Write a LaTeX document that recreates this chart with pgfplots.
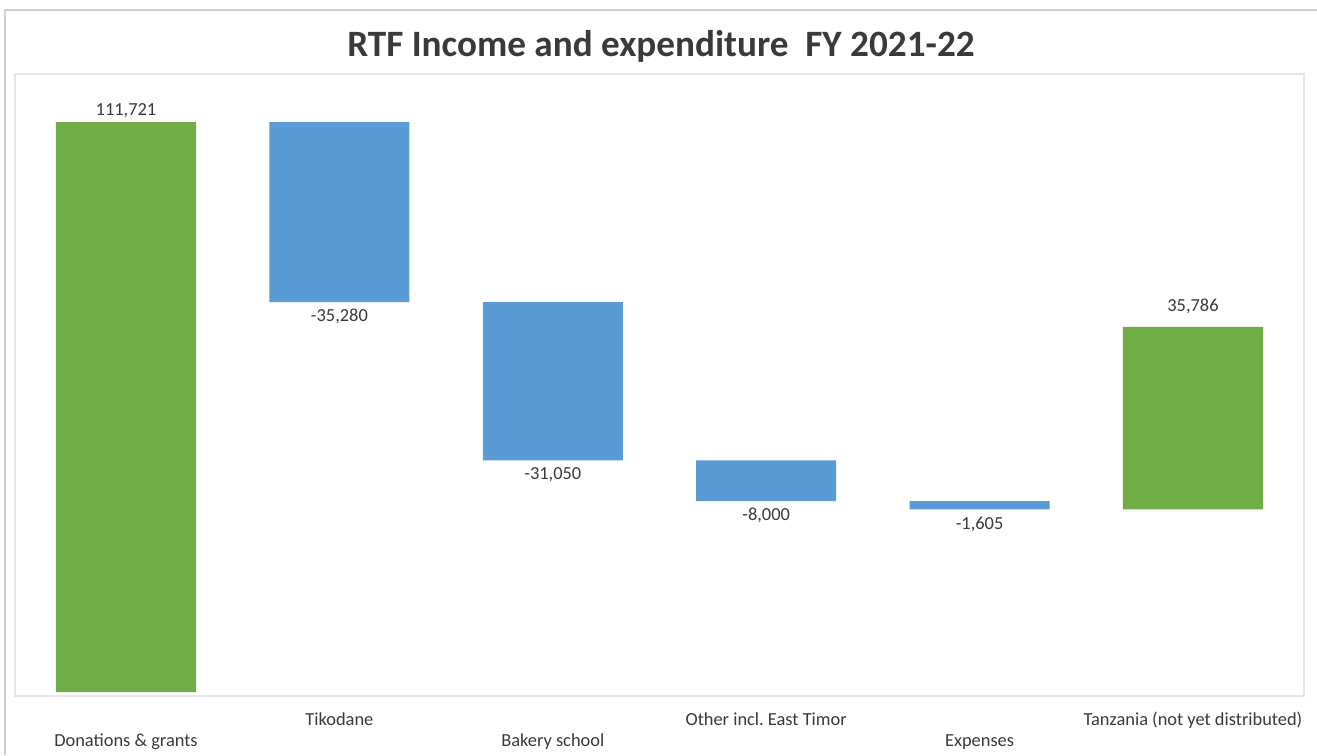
\documentclass[border=0pt]{standalone}
\usepackage{pgfplots}
\pgfplotsset{compat=1.18}
\usepackage{fontspec}
\setmainfont{Carlito}
\frenchspacing
\definecolor{rtfgreen}{HTML}{70AD47}
\definecolor{rtfblue}{HTML}{5B9BD5}
\definecolor{txt}{HTML}{3A3A3A}
\definecolor{frameout}{HTML}{D0D0D0}
\definecolor{framein}{HTML}{E6E6E6}
\tikzset{lab/.style={font=\fontsize{9.2}{11}\selectfont, text=txt, inner sep=0pt, anchor=base}}
\begin{document}
\begin{tikzpicture}
\useasboundingbox (0,0) rectangle (658.5pt,-377.5pt);
\fill[white] (0,0) rectangle (658.5pt,-377.5pt);
\draw[frameout, line width=0.7pt] (2.5pt,-377.5pt) -- (2.5pt,-5pt) -- (658.5pt,-5pt);
\draw[framein, line width=0.7pt] (7.5pt,-37pt) rectangle (652pt,-348pt);
\node[anchor=base, font=\fontsize{18.6}{22}\selectfont\bfseries, text=txt, inner sep=0pt] at (330.5pt,-28pt) {RTF Income and expenditure\ \ FY 2021-22};
\begin{axis}[
  at={(9.65pt,-346pt)}, anchor=south west,
  scale only axis, width=640.2pt, height=309pt,
  xmin=-0.5, xmax=5.5, ymin=0, ymax=121130,
  ybar stacked, bar width=70pt,
  axis x line*=bottom, axis y line=none,
  x axis line style={draw=none},
  xtick={0,1,2,3,4,5},
  xticklabels={\raisebox{-10.5pt}{Donations \& grants}, Tikodane, \raisebox{-10.5pt}{Bakery school}, Other incl. East Timor, \raisebox{-10.5pt}{Expenses}, Tanzania (not yet distributed)},
  major tick length=0pt,
  xticklabel style={anchor=base, yshift=-16.5pt, font=\fontsize{9.2}{11}\selectfont, text=txt, inner sep=0pt},
  clip=false,
]
% invisible base of the waterfall
\addplot[fill=none, draw=none] coordinates {(0,0) (1,76441) (2,45391) (3,37391) (4,35786) (5,35786)};
% totals (green)
\addplot[fill=rtfgreen, draw=none] coordinates {(0,111721) (1,0) (2,0) (3,0) (4,0) (5,35786)};
% decreases (blue)
\addplot[fill=rtfblue, draw=none] coordinates {(0,0) (1,35280) (2,31050) (3,8000) (4,1605) (5,0)};
\node[lab, yshift=3.5pt] at (axis cs:0,111721) {111,721};
\node[lab, yshift=-9.5pt] at (axis cs:1,76441) {-35,280};
\node[lab, yshift=-9.5pt] at (axis cs:2,45391) {-31,050};
\node[lab, yshift=-9.5pt] at (axis cs:3,37391) {-8,000};
\node[lab, yshift=-10pt] at (axis cs:4,35786) {-1,605};
\node[lab, yshift=7.5pt] at (axis cs:5,71572) {35,786};
\end{axis}
\end{tikzpicture}
\end{document}
